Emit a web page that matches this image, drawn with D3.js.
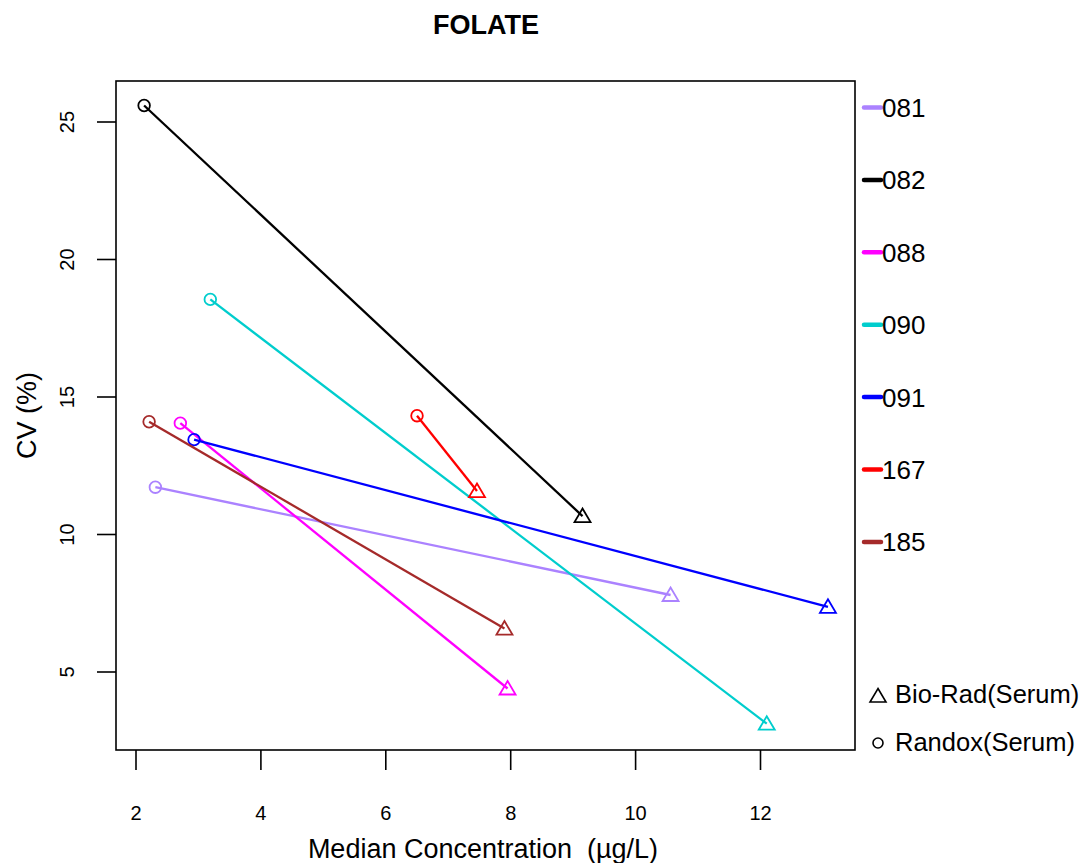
<!DOCTYPE html>
<html>
<head>
<meta charset="utf-8">
<script src="https://cdn.jsdelivr.net/npm/d3@7"></script>
<style>
  body { margin: 0; background: #fff; }
  svg { display: block; font-family: "Liberation Sans", Arial, sans-serif; }
  text { white-space: pre; }
</style>
</head>
<body>
<svg id="chart" width="1090" height="863"></svg>
<script>
// ---- data ----
const labs = ["081", "082", "088", "090", "091", "167", "185"];
const labColors = ["#AB82FF", "#000000", "#FF00FF", "#00CDCD", "#0000FF", "#FF0000", "#A52A2A"];
const randoxX = [2.31, 2.13, 2.71, 3.19, 2.93, 6.50, 2.21];
const randoxY = [11.72, 25.60, 14.05, 18.55, 13.45, 14.32, 14.10];
const bioradX = [10.56, 9.15, 7.95, 12.10, 13.08, 7.46, 7.90];
const bioradY = [7.80, 10.67, 4.40, 3.12, 7.37, 11.58, 6.58];
const xTicks = [2, 4, 6, 8, 10, 12];
const yTicks = [5, 10, 15, 20, 25];
const shapeLegend = ["Bio-Rad(Serum)", "Randox(Serum)"];

const svg = d3.select("#chart");
const box = { left: 116, right: 855, top: 81, bottom: 750 };

const x = d3.scaleLinear().domain([2, 12]).range([136, 760.5]);
const y = d3.scaleLinear().domain([5, 25]).range([672, 122]);

// title
svg.append("text").attr("x", 486).attr("y", 34).attr("text-anchor", "middle")
  .attr("font-size", 27).attr("font-weight", "bold").text("FOLATE");

// box
svg.append("rect").attr("x", box.left).attr("y", box.top)
  .attr("width", box.right - box.left).attr("height", box.bottom - box.top)
  .attr("fill", "none").attr("stroke", "#000").attr("stroke-width", 1.6);

// x axis
const gx = svg.append("g");
xTicks.forEach(t => {
  gx.append("line").attr("x1", x(t)).attr("x2", x(t)).attr("y1", box.bottom).attr("y2", box.bottom + 20)
    .attr("stroke", "#000").attr("stroke-width", 1.6);
  gx.append("text").attr("x", x(t)).attr("y", 820).attr("text-anchor", "middle")
    .attr("font-size", 20).text(t);
});
svg.append("text").attr("x", 483).attr("y", 858).attr("text-anchor", "middle")
  .attr("font-size", 27).text("Median Concentration  (\u00B5g/L)");

// y axis
const gy = svg.append("g");
yTicks.forEach(t => {
  gy.append("line").attr("x1", box.left - 19).attr("x2", box.left).attr("y1", y(t)).attr("y2", y(t))
    .attr("stroke", "#000").attr("stroke-width", 1.6);
  gy.append("text").attr("transform", `translate(74,${y(t)}) rotate(-90)`)
    .attr("text-anchor", "middle").attr("font-size", 20).text(t);
});
svg.append("text").attr("transform", `translate(36,${(box.top + box.bottom) / 2}) rotate(-90)`)
  .attr("text-anchor", "middle").attr("font-size", 27).text("CV (%)");

// data
const data = labs.map((l, i) => ({
  lab: l, color: labColors[i],
  x0: randoxX[i], y0: randoxY[i], x1: bioradX[i], y1: bioradY[i]
}));

const tri = (cx, cy) => `M${cx},${cy - 7.5} L${cx + 8},${cy + 6} L${cx - 8},${cy + 6} Z`;

const g = svg.append("g");
data.forEach(d => {
  g.append("line").attr("x1", x(d.x0)).attr("y1", y(d.y0)).attr("x2", x(d.x1)).attr("y2", y(d.y1))
    .attr("stroke", d.color).attr("stroke-width", 2.3);
  g.append("circle").attr("cx", x(d.x0)).attr("cy", y(d.y0)).attr("r", 5.8)
    .attr("fill", "none").attr("stroke", d.color).attr("stroke-width", 1.8);
  g.append("path").attr("d", tri(x(d.x1), y(d.y1)))
    .attr("fill", "none").attr("stroke", d.color).attr("stroke-width", 1.8);
});

// lab legend
const leg = svg.append("g");
labs.forEach((l, i) => {
  const yy = 107.5 + i * 72.4;
  leg.append("line").attr("x1", 864).attr("x2", 881).attr("y1", yy).attr("y2", yy)
    .attr("stroke", labColors[i]).attr("stroke-width", 4.5).attr("stroke-linecap", "round");
  leg.append("text").attr("x", 882).attr("y", yy + 9.5).attr("font-size", 26).text(l);
});

// shape legend
svg.append("path").attr("d", tri(878, 696)).attr("fill", "none").attr("stroke", "#000").attr("stroke-width", 1.6);
svg.append("text").attr("x", 895).attr("y", 703).attr("font-size", 25.5).text(shapeLegend[0]);
svg.append("circle").attr("cx", 878).attr("cy", 743).attr("r", 5).attr("fill", "none").attr("stroke", "#000").attr("stroke-width", 1.6);
svg.append("text").attr("x", 895).attr("y", 751).attr("font-size", 25.5).text(shapeLegend[1]);
</script>
</body>
</html>
